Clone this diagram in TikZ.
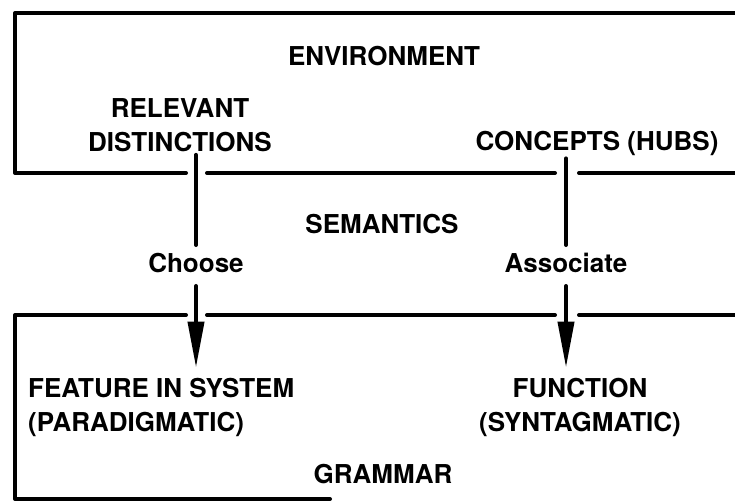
\documentclass[tikz,border=0pt]{standalone}
\usepackage{fontspec}
\setmainfont{TeX Gyre Heros}
\usetikzlibrary{arrows.meta}

\tikzset{
  lbl/.style={font=\fontsize{26}{34}\selectfont\bfseries, inner sep=3pt},
  frame/.style={line width=4pt, line cap=round, line join=round},
  conn/.style={line width=4pt, line cap=round},
  down/.style={conn, -{Triangle[length=46pt,width=16pt]}}
}

\begin{document}
\begin{tikzpicture}[x=1pt,y=-1pt] % pixel units, y downwards
    \useasboundingbox (0,0) rectangle (735,501);

    % Boxes (open to the right)
    \draw[frame] (735,13) -- (15,13) -- (15,173) -- (186,173);
    \draw[frame] (207,173) -- (555,173);
    \draw[frame] (579,173) -- (735,173);
    \draw[frame] (735,315) -- (579,315);
    \draw[frame] (555,315) -- (207,315);
    \draw[frame] (186,315) -- (15,315) -- (15,499) -- (330,499);

    % Labels
    \node[lbl] (env) at (384,56) {ENVIRONMENT};
    \node[lbl, align=center] (relev) at (180,125) {RELEVANT\\DISTINCTIONS};
    \node[lbl] (concepts) at (597,143) {CONCEPTS (HUBS)};
    \node[lbl] (sem) at (382,224) {SEMANTICS};
    \node[lbl] (choose) at (196,263) {Choose};
    \node[lbl] (assoc) at (566,263) {Associate};
    \node[lbl, align=left, anchor=west] (feature) at (25,407) {FEATURE IN SYSTEM\\(PARADIGMATIC)};
    \node[lbl, align=center] (func) at (580,407) {FUNCTION\\(SYNTAGMATIC)};
    \node[lbl] (gram) at (383,474) {GRAMMAR};

    % Connectors
    \draw[conn, shorten >=5pt] (choose.north |- relev.south) -- (choose.north);
    \draw[conn, shorten >=5pt] (assoc.north |- concepts.south) -- (assoc.north);
    \draw[down, shorten <=10pt, shorten >=7pt] (choose.south) -- (choose.south |- feature.north);
    \draw[down, shorten <=10pt, shorten >=7pt] (assoc.south) -- (assoc.south |- func.north);
\end{tikzpicture}
\end{document}
